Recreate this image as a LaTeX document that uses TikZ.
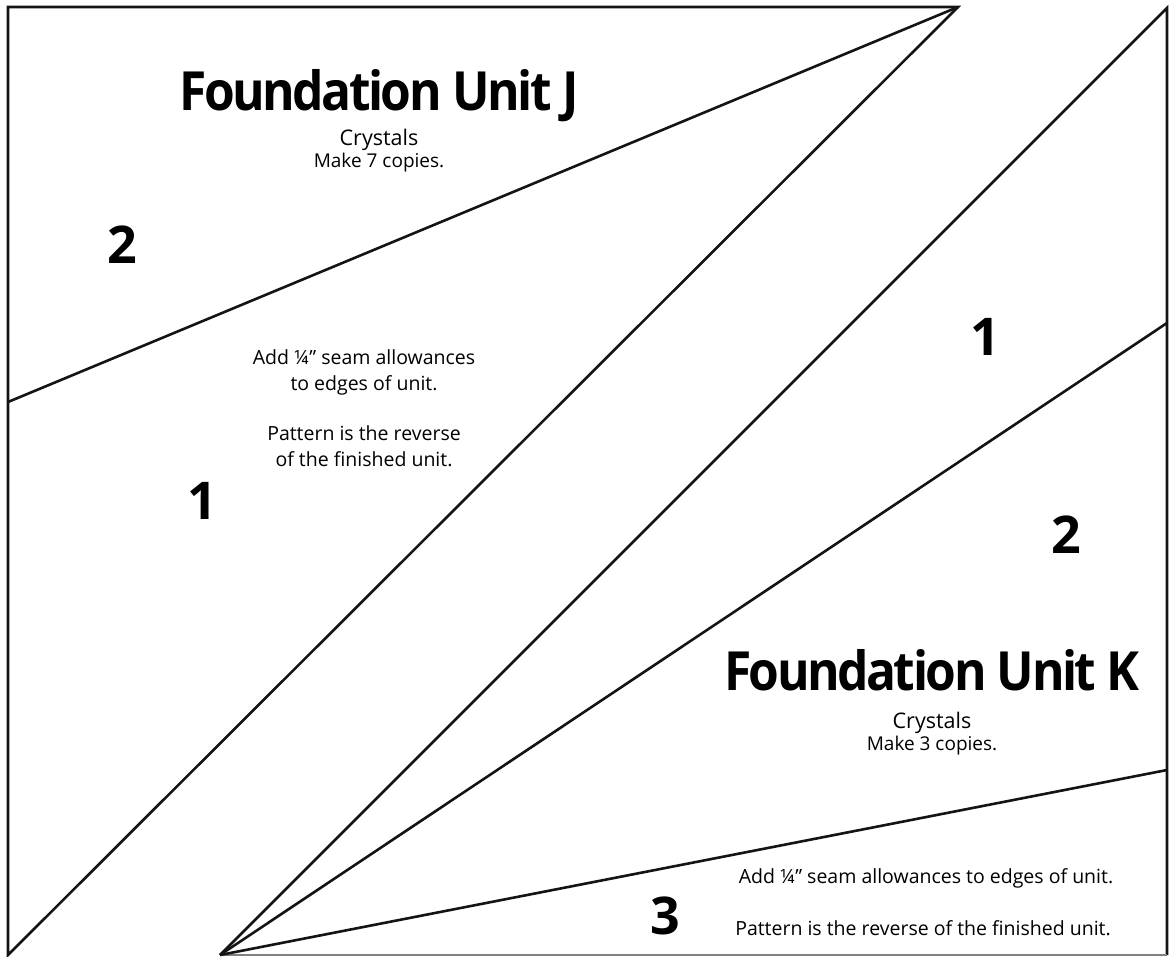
\documentclass[tikz,border=0pt]{standalone}
\usepackage{fontspec}
\setmainfont{Open Sans}
\newfontfamily\titlefont[LetterSpace=-5]{Open Sans Bold}
\newfontfamily\numfont{Open Sans Bold}
\newcommand\ttl[1]{\scalebox{0.92}[1]{#1}}
\begin{document}
\begin{tikzpicture}[x=1pt,y=-1pt,
  edge/.style={line width=2.6pt,black!92,line join=miter},
  title/.style={font=\titlefont\fontsize{54}{60}\selectfont,inner sep=0pt},
  sub/.style={font=\fontsize{21.5}{24}\selectfont,inner sep=0pt,anchor=base},
  small/.style={font=\fontsize{19}{22}\selectfont,inner sep=0pt,anchor=base},
  note/.style={font=\fontsize{19.5}{26}\selectfont,inner sep=0pt,align=center},
  num/.style={font=\numfont\fontsize{52}{56}\selectfont,inner sep=0pt}]
\useasboundingbox (0,0) rectangle (1174,957);
% Unit J
\coordinate (jtl) at (8,7);
\coordinate (jtr) at (958,7);
\coordinate (jbl) at (8,955);
\coordinate (jsl) at (8,402);
\draw[edge] (jbl) -- (jtl) -- (jtr) -- cycle;
\draw[edge] (jsl) -- (jtr);
% Unit K
\coordinate (ktr) at (1167,8);
\coordinate (kbr) at (1167,955);
\coordinate (kbl) at (220,955);
\coordinate (ks1) at (1167,323);
\coordinate (ks2) at (1167,770);
\draw[edge] (kbl) -- (ktr) -- (kbr);
\draw[line width=1.4pt,black!50] (kbl) -- (kbr);
\draw[edge] (kbl) -- (ks1);
\draw[edge] (kbl) -- (ks2);
% texts J
\node[title] (tj) at (379,96) {\ttl{Foundation Unit J}};
\node[sub] (cj) at (379,146) {Crystals};
\node[small] (mj) at (379,168) {Make 7 copies.};
\node[num] (j2) at (122,245) {2};
\node[num] (j1) at (202,501) {1};
\node[note] (nj) at (364,408) {Add ¼” seam allowances\\to edges of unit.\\[24pt]Pattern is the reverse\\of the finished unit.};
% texts K
\node[title] (tk) at (932,670) {\ttl{Foundation Unit K}};
\node[sub] (ck) at (932,728) {Crystals};
\node[small] (mk) at (932,750) {Make 3 copies.};
\node[num] (k1) at (985,337) {1};
\node[num] (k2) at (1066,535) {2};
\node[num] (k3) at (665,916) {3};
\node[note] (nk1) at (926,878) {Add ¼” seam allowances to edges of unit.};
\node[note] (nk2) at (923,928) {Pattern is the reverse of the finished unit.};
\end{tikzpicture}
\end{document}
